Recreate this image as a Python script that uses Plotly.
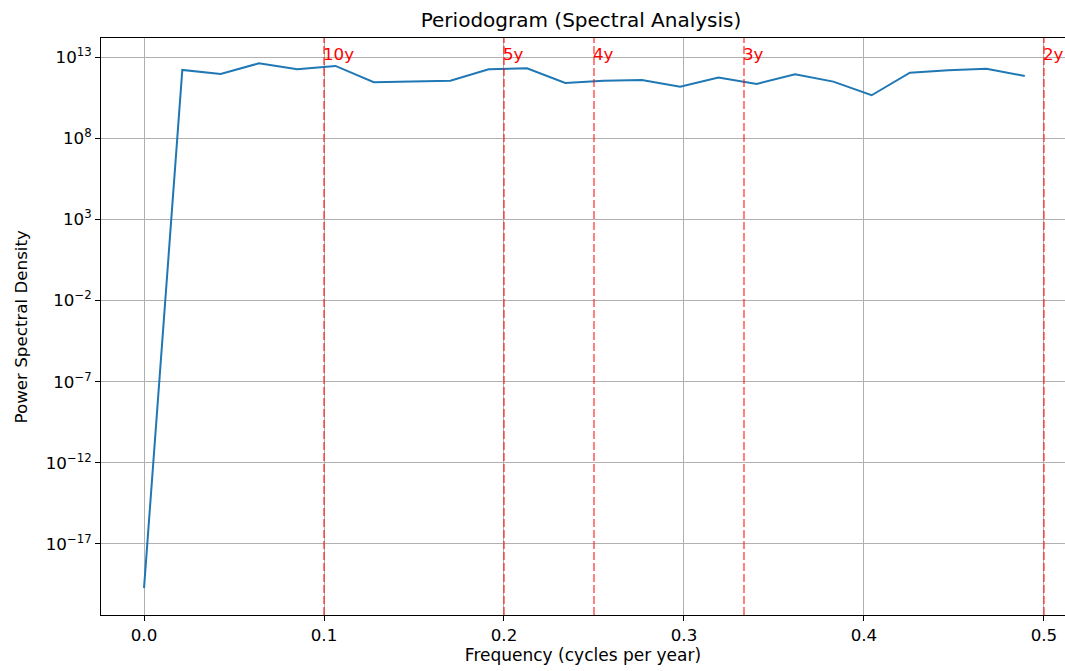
import plotly.graph_objects as go

# Frequencies k/47, k = 0..23 (cycles per year)
freq = [k / 47 for k in range(24)]
# log10 of power spectral density
log_psd = [-19.72, 12.22, 11.97, 12.63, 12.26, 12.47, 11.46, 11.51, 11.56,
           12.26, 12.32, 11.42, 11.56, 11.60, 11.19, 11.75, 11.36, 11.95,
           11.50, 10.66, 12.05, 12.20, 12.30, 11.85]
psd = [10 ** v for v in log_psd]

period_freqs = [0.1, 0.2, 0.25, 1 / 3, 0.5]
period_labels = ["10y", "5y", "4y", "3y", "2y"]

xtick_vals = [0.0, 0.1, 0.2, 0.3, 0.4, 0.5]
xtick_text = ["0.0", "0.1", "0.2", "0.3", "0.4", "0.5"]
ytick_exps = [13, 8, 3, -2, -7, -12, -17]

FONT = "DejaVu Sans"
FS = 16.7
W, H = 1065, 671
ML, MR, MT, MB = 101, 0, 38, 56

fig = go.Figure()
fig.add_trace(go.Scatter(x=freq, y=psd, mode="lines",
                         line=dict(color="#1f77b4", width=2),
                         showlegend=False, hoverinfo="x+y"))

for f, lab in zip(period_freqs, period_labels):
    fig.add_shape(type="line", xref="x", yref="paper", x0=f, x1=f, y0=0, y1=1,
                  line=dict(color="rgba(255,0,0,0.5)", width=2, dash="8px,3px"),
                  layer="above")
    fig.add_annotation(x=f, y=12.45, xref="x", yref="y", text=lab,
                       showarrow=False, xanchor="left", yanchor="bottom",
                       xshift=-3, font=dict(family=FONT, size=FS, color="red"))

# y-axis title placed like matplotlib's
fig.add_annotation(text="Power Spectral Density", textangle=-90,
                   xref="paper", yref="paper",
                   x=(20 - ML) / (W - ML - MR), y=0.5,
                   xanchor="center", yanchor="middle", showarrow=False,
                   font=dict(family=FONT, size=FS, color="black"))

fig.update_layout(
    width=W, height=H,
    margin=dict(l=ML, r=MR, t=MT, b=MB),
    paper_bgcolor="white", plot_bgcolor="white",
    font=dict(family=FONT, size=FS, color="black"),
    title=dict(text="Periodogram (Spectral Analysis)", x=581 / W, xanchor="center",
               xref="container", y=1 - 20 / H, yref="container", yanchor="middle",
               font=dict(family=FONT, size=20, color="black")),
    showlegend=False,
)
fig.update_xaxes(
    range=[-0.0239, 0.5117], tickvals=xtick_vals, ticktext=xtick_text,
    showgrid=True, gridcolor="#b0b0b0", gridwidth=1,
    showline=True, linecolor="black", linewidth=1, mirror=True,
    ticks="outside", ticklen=5, tickcolor="black", zeroline=False,
    title=dict(text="Frequency (cycles per year)", font=dict(family=FONT, size=17), standoff=4),
    tickfont=dict(family=FONT, size=FS),
)
fig.update_yaxes(
    type="log", range=[-21.38, 14.19],
    tickvals=[10 ** e for e in ytick_exps],
    ticktext=["10<sup>%d</sup>" % e if e >= 0 else "10<sup>\u2212%d</sup>" % (-e) for e in ytick_exps],
    showgrid=True, gridcolor="#b0b0b0", gridwidth=1,
    showline=True, linecolor="black", linewidth=1,
    ticks="outside", ticklen=5, tickcolor="black", zeroline=False,
    tickfont=dict(family=FONT, size=FS),
)

fig.write_html("out.html", config={"displayModeBar": False},
               post_script="document.body.style.margin='0';")
